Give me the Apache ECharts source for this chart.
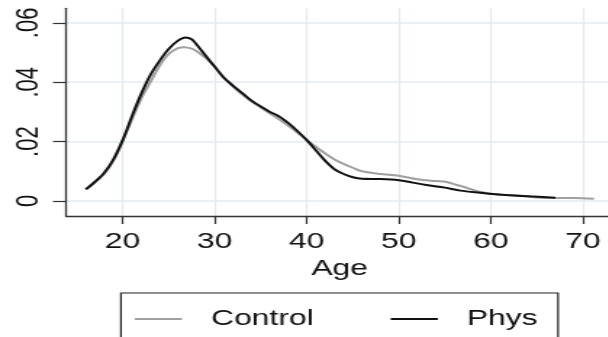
<!DOCTYPE html>
<html>
<head>
<meta charset="utf-8">
<script src="https://cdn.jsdelivr.net/npm/echarts@6/dist/echarts.min.js"></script>
<style>
  html, body { margin: 0; padding: 0; background: #fff; overflow: hidden; }
  #wrap { width: 613px; height: 337px; overflow: hidden; }
  /* the original graph is stretched sideways, so draw narrow and widen */
  #chart { width: 423px; height: 337px; transform: scaleX(1.45); transform-origin: 0 0; }
</style>
</head>
<body>
<div id="wrap"><div id="chart"></div></div>
<script>
// 数据
var ctrlAge  = [16, 17, 18, 19, 20, 21, 22, 23, 24, 25, 26, 26.7, 27.5, 28, 29, 30, 31, 32, 33, 34, 35, 36, 37, 38, 39, 40, 41, 42, 43, 44, 45, 46, 48, 50, 52, 54, 55.2, 56.3, 57, 58.8, 61, 62.8, 64.6, 66.8, 69, 71.2];
var ctrlDens = [0.0039, 0.0063, 0.0092, 0.0138, 0.0203, 0.0275, 0.0345, 0.0400, 0.0455, 0.0495, 0.0515, 0.0518, 0.0513, 0.0505, 0.0482, 0.0452, 0.0415, 0.0385, 0.0358, 0.0335, 0.0315, 0.0295, 0.0275, 0.0253, 0.0230, 0.0205, 0.0182, 0.0160, 0.0140, 0.0125, 0.0112, 0.0100, 0.0091, 0.0085, 0.0073, 0.0067, 0.0064, 0.0054, 0.0048, 0.0031, 0.0021, 0.0019, 0.0013, 0.0010, 0.0010, 0.0008];

var physAge  = [16, 17, 18, 19, 20, 21, 22, 23, 24, 25, 26, 26.8, 27.5, 28, 29, 30, 31, 32, 33, 34, 35, 36, 37, 38, 39, 40, 41, 42, 43, 44, 45, 46, 48, 50, 51.5, 53, 55, 56.7, 58.8, 60.5, 62.8, 64.6, 67];
var physDens = [0.0039, 0.0065, 0.0095, 0.0140, 0.0205, 0.0285, 0.0360, 0.0424, 0.0472, 0.0512, 0.0540, 0.0551, 0.0545, 0.0528, 0.0490, 0.0452, 0.0415, 0.0388, 0.0363, 0.0338, 0.0318, 0.0300, 0.0285, 0.0262, 0.0235, 0.0205, 0.0170, 0.0135, 0.0107, 0.0091, 0.0080, 0.0075, 0.0074, 0.0070, 0.0062, 0.0054, 0.0045, 0.0035, 0.0028, 0.0023, 0.0018, 0.0015, 0.0011];

var xTicks = [20, 30, 40, 50, 60, 70];
var yTicks = [0, 0.02, 0.04, 0.06];

function zip(a, b) {
  return a.map(function (v, i) { return [v, b[i]]; });
}

var font = 'Liberation Sans';
var chart = echarts.init(document.getElementById('chart'));

var option = {
  animation: false,
  backgroundColor: '#fff',
  textStyle: { fontFamily: font },
  grid: { left: 45.5, right: 0, top: 8.3, bottom: 121 },
  xAxis: {
    type: 'value',
    min: 13.84,
    max: 73.3,
    name: 'Age',
    nameLocation: 'middle',
    nameGap: 41,
    nameTextStyle: { fontFamily: font, fontSize: 22, color: '#111' },
    axisLine: { onZero: false, lineStyle: { color: '#333', width: 1.3 } },
    axisTick: { customValues: xTicks, length: 8, lineStyle: { color: '#333', width: 1.2 } },
    axisLabel: { customValues: xTicks, margin: 15, fontFamily: font, fontSize: 22, color: '#111' },
    splitLine: { show: true, lineStyle: { color: '#e4ebf0', width: 1.2 } }
  },
  yAxis: {
    type: 'value',
    min: -0.00505,
    max: 0.0649,
    axisLine: { show: true, onZero: false, lineStyle: { color: '#333', width: 1.3 } },
    axisTick: { show: true, customValues: yTicks, length: 9, lineStyle: { color: '#333', width: 1.2 } },
    axisLabel: {
      customValues: yTicks,
      rotate: 90,
      margin: 15,
      fontFamily: font,
      fontSize: 22,
      color: '#111',
      formatter: function (v) {
        return v === 0 ? '0' : v.toFixed(2).replace(/^0/, '');
      }
    },
    splitLine: { show: true, lineStyle: { color: '#e4ebf0', width: 1.5 } }
  },
  legend: {
    left: 83.4,
    top: 293,
    padding: [15, 14, 15, 9.6],
    icon: 'rect',
    itemWidth: 32.5,
    itemHeight: 1.8,
    itemGap: 53,
    borderColor: '#222',
    borderWidth: 1.2,
    textStyle: { fontFamily: font, fontSize: 22, color: '#111', padding: [0, 0, 0, 15] },
    data: ['Control', 'Phys']
  },
  series: [
    {
      name: 'Control',
      type: 'line',
      data: zip(ctrlAge, ctrlDens),
      smooth: 0.3,
      symbol: 'none',
      lineStyle: { color: '#a0a0a0', width: 2 },
      itemStyle: { color: '#a0a0a0' }
    },
    {
      name: 'Phys',
      type: 'line',
      data: zip(physAge, physDens),
      smooth: 0.3,
      symbol: 'none',
      lineStyle: { color: '#111', width: 2 },
      itemStyle: { color: '#111' }
    }
  ]
};

chart.setOption(option);
</script>
</body>
</html>
